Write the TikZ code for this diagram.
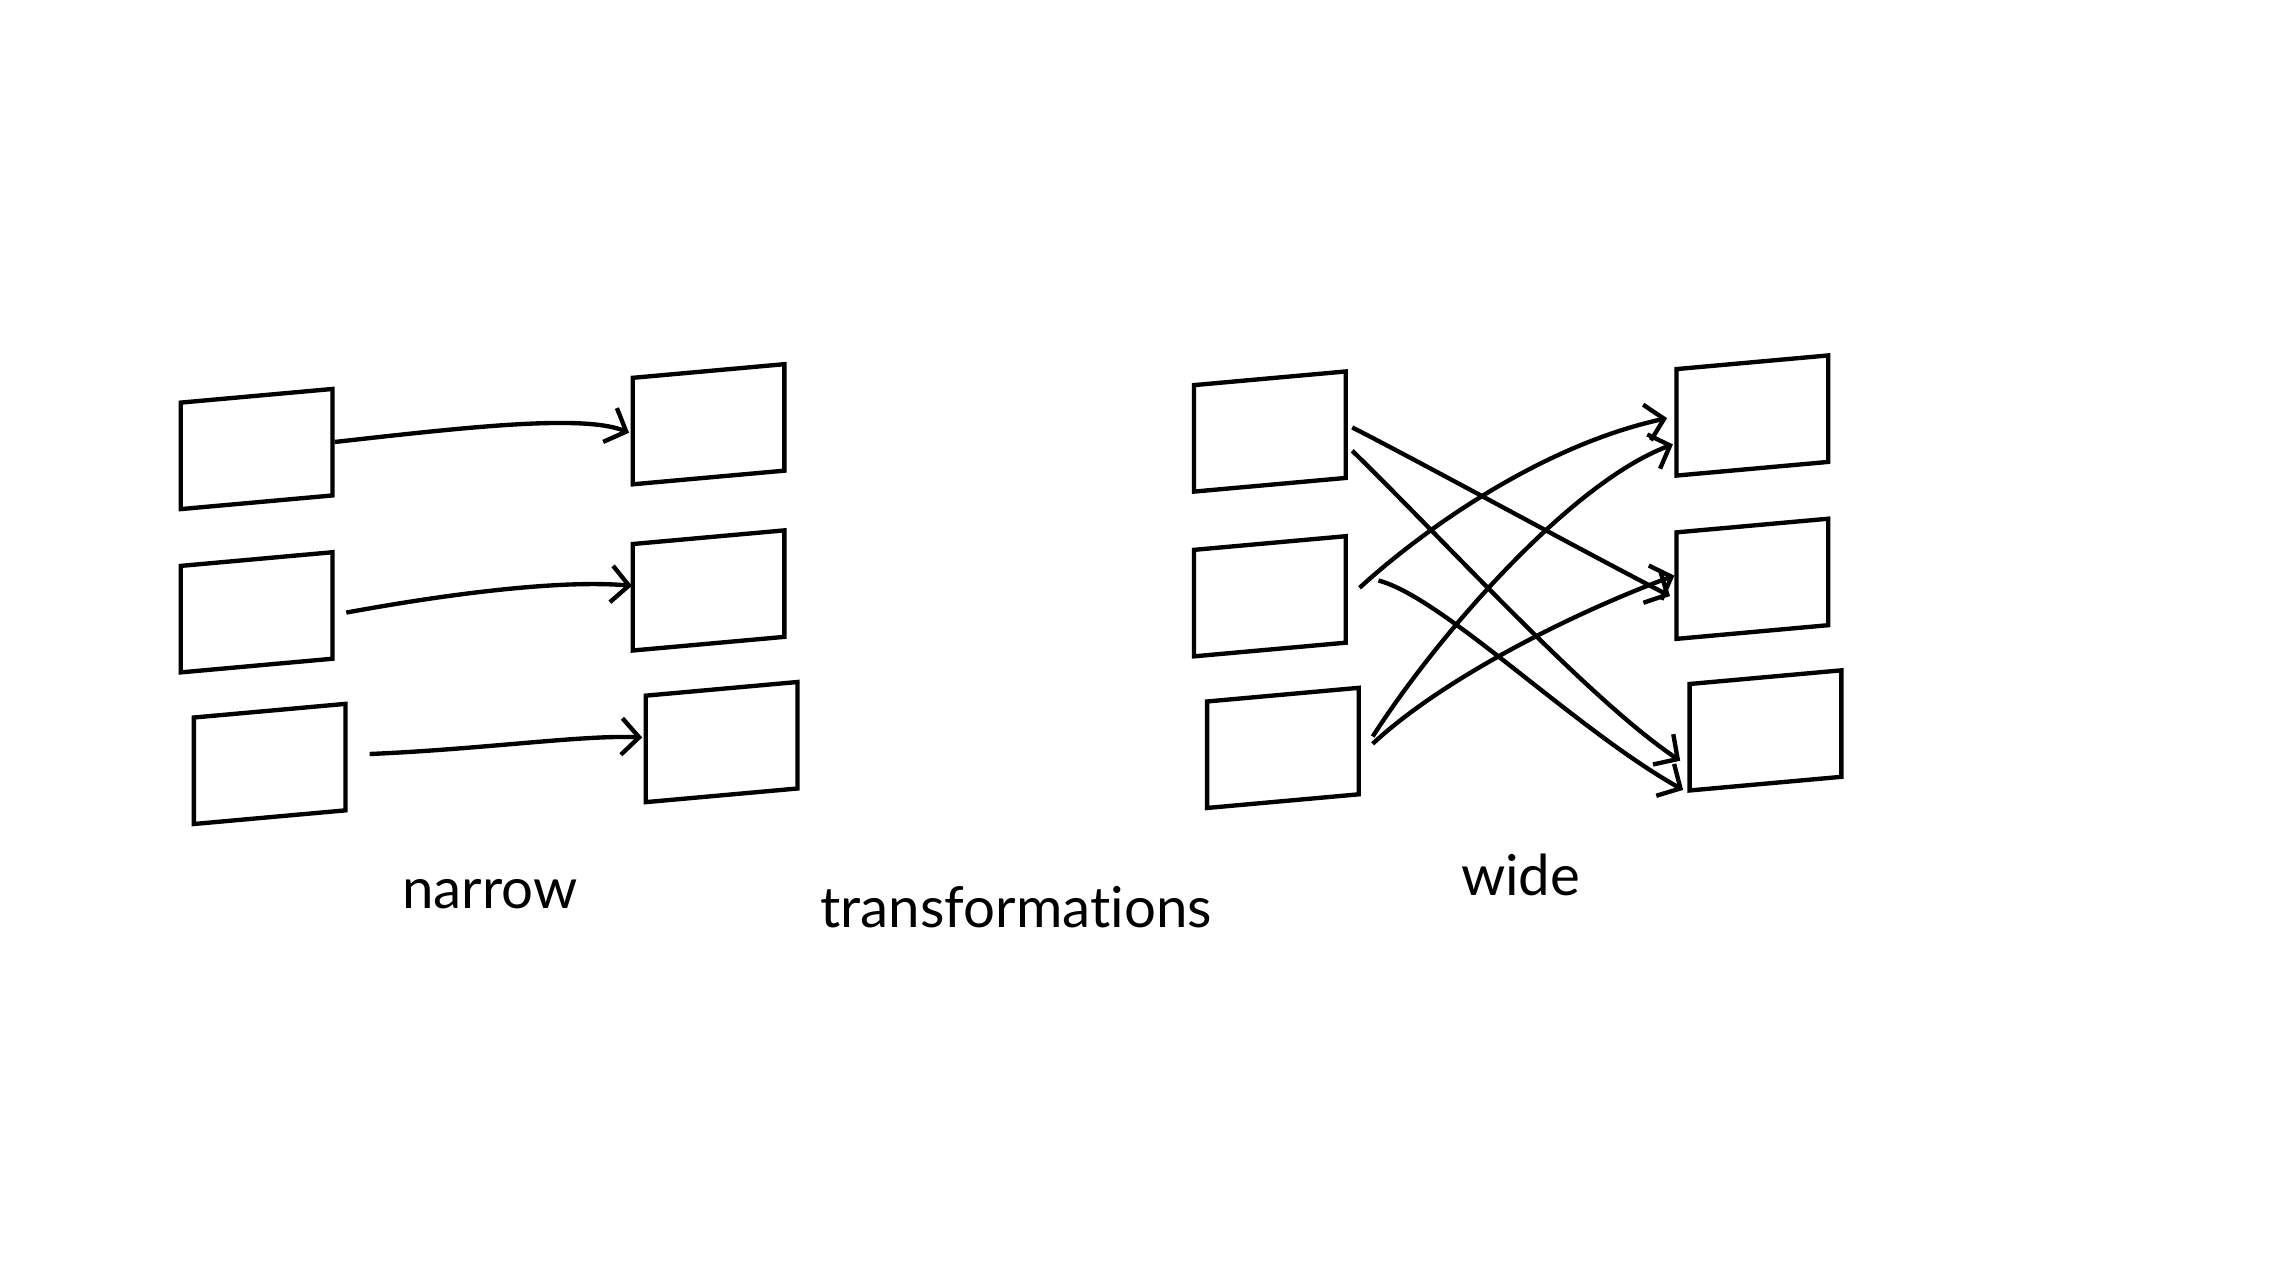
\documentclass[tikz,border=0pt]{standalone}
\usepackage{fontspec}
\setmainfont{Lato}[Ligatures={NoCommon}]
\usetikzlibrary{arrows.meta,calc}
\begin{document}
\begin{tikzpicture}[x=0.01cm,y=-0.01cm,
  box/.style={draw, line width=0.85pt, minimum width=1.04cm, minimum height=0.73cm,
    inner sep=0pt, yslant=0.09, transform shape},
  arr/.style={line width=0.85pt, -{Straight Barb[length=0.12cm,width=0.25cm,line width=0.85pt]}},
  lbl/.style={font=\fontsize{11}{13}\selectfont, inner sep=0pt, anchor=base}]
\useasboundingbox (0,0) rectangle (1568,867);
% narrow group
\node[box] (L1) at (176,308) {};
\node[box] (L2) at (176,420) {};
\node[box] (L3) at (185,524) {};
\node[box] (M1) at (486,291) {};
\node[box] (M2) at (486,405) {};
\node[box] (M3) at (495,509) {};
% wide group
\node[box] (W1) at (871,296) {};
\node[box] (W2) at (871,409) {};
\node[box] (W3) at (880,513) {};
\node[box] (R1) at (1202,285) {};
\node[box] (R2) at (1202,397) {};
\node[box] (R3) at (1211,501) {};
% labels
\node[lbl] (narrow) at (336,623) {narrow};
\node[lbl] (trans) at (697,636) {transformat\kern0pt ions};
\node[lbl] (wide) at (1043,614) {wide};
% narrow connectors
\draw[arr] (L1.east) .. controls (320,293) and (400,284) .. ($(M1.west)+(-1,1)$);
\draw[arr] ($(L2.east)+(8,5)$) .. controls (320,405) and (390,398) .. ($(M2.west)+(1,-8)$);
\draw[arr] ($(L3.east)+(15,-2)$) .. controls (330,514) and (400,504) .. ($(M3.west)+(-1,-8)$);
% wide connectors
\draw[arr] ($(W1.east)+(3,2)$) .. controls (980,320) and (1080,375) .. ($(R2.west)+(-3,7)$);
\draw[arr] ($(W1.east)+(3,18)$) .. controls (990,370) and (1090,480) .. ($(R3.west)+(-5,16)$);
\draw[arr] ($(W2.east)+(8,-1)$) .. controls (980,360) and (1060,305) .. ($(R1.west)+(-5,-3)$);
\draw[arr] ($(W2.east)+(21,-6)$) .. controls (990,410) and (1080,500) .. ($(R3.west)+(-3,36)$);
\draw[arr] ($(W3.east)+(8,-3)$) .. controls (990,430) and (1080,330) .. ($(R1.west)+(-1,15)$);
\draw[arr] ($(W3.east)+(8,2)$) .. controls (990,465) and (1080,420) .. ($(R2.west)+(0,-7)$);
\end{tikzpicture}
\end{document}
